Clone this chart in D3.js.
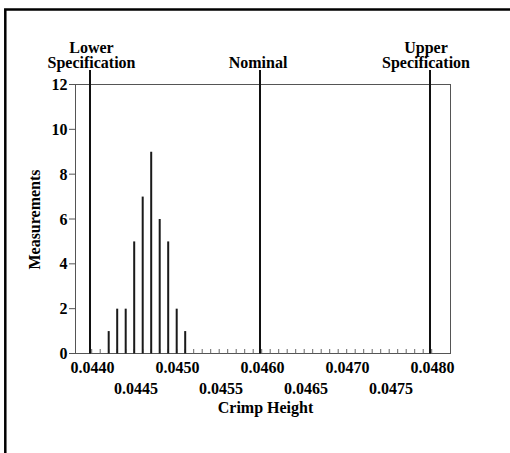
<!DOCTYPE html>
<html><head><meta charset="utf-8">
<script src="https://cdn.jsdelivr.net/npm/d3@7"></script>
<style>
html,body{margin:0;padding:0;background:#fff;}
svg{display:block;}
text{font-family:"Liberation Serif","Times New Roman",serif;font-weight:bold;fill:#000;}
</style></head>
<body>
<svg id="chart" width="510" height="453"></svg>
<script>
// Histogram bins (bin positions) and counts
const binValues = d3.range(41).map(k => +(0.04402 + 0.0001 * k).toFixed(5));
const counts = [0,0,1,2,2,5,7,9,6,5,2,1,0,0,0,0,0,0,0,0,0,0,0,0,0,0,0,0,0,0,0,0,0,0,0,0,0,0,0,0,0];
// Specification lines
const specNames = [["Lower","Specification"],["Nominal"],["Upper","Specification"]];
const specValues = [0.0440, 0.0460, 0.0480];
const specLabelShift = [1.5, -2, -4];
// Axis ticks
const xTickRow1 = [0.0440, 0.0450, 0.0460, 0.0470, 0.0480];
const xTickRow2 = [0.0445, 0.0455, 0.0465, 0.0475];
const yTicks = [0,2,4,6,8,10,12];

const svg = d3.select("#chart");
const L = 75.5, R = 450.5, T = 84.5, B = 353.5;
const x = d3.scaleLinear().domain([0.0440, 0.0480]).range([90, 430]);
const y = d3.scaleLinear().domain([0, 12]).range([B, T]);

// outer frame
svg.append("rect").attr("x",5.3).attr("y",9.5).attr("width",530).attr("height",470)
  .attr("fill","none").attr("stroke","#000").attr("stroke-width",2.5);

// plot border
svg.append("rect").attr("x",L).attr("y",T).attr("width",R-L).attr("height",B-T)
  .attr("fill","none").attr("stroke","#555").attr("stroke-width",1);

// minor ticks at bins
svg.append("g").selectAll("line").data(binValues).join("line")
  .attr("x1",d=>x(d)).attr("x2",d=>x(d)).attr("y1",B).attr("y2",B-4.5)
  .attr("stroke","#666").attr("stroke-width",1);

// bars
svg.append("g").selectAll("rect").data(binValues.map((v,i)=>({v,c:counts[i]})).filter(d=>d.c>0)).join("rect")
  .attr("x",d=>x(d.v)-1).attr("width",2)
  .attr("y",d=>y(d.c)).attr("height",d=>B-y(d.c))
  .attr("fill","#1a1a1a");

// spec lines
svg.append("g").selectAll("line").data(specValues).join("line")
  .attr("x1",d=>x(d)).attr("x2",d=>x(d)).attr("y1",70).attr("y2",B)
  .attr("stroke","#111").attr("stroke-width",2);

// spec labels
specNames.forEach((lines,i)=>{
  const t = svg.append("text").attr("text-anchor","middle").attr("font-size",16);
  const n = lines.length;
  lines.forEach((s,j)=>{
    t.append("tspan").attr("x",x(specValues[i])+specLabelShift[i])
      .attr("y",67.5 - (n-1-j)*14.5).text(s);
  });
});

// y axis
const yg = svg.append("g");
yg.selectAll("line").data(yTicks).join("line")
  .attr("x1",L-6.5).attr("x2",L).attr("y1",d=>y(d)).attr("y2",d=>y(d))
  .attr("stroke","#555").attr("stroke-width",1);
yg.selectAll("text").data(yTicks).join("text")
  .attr("x",67.5).attr("y",d=>y(d)).attr("dy","0.35em").attr("text-anchor","end")
  .attr("font-size",16).text(d=>d);

// x labels
svg.append("g").selectAll("text").data(xTickRow1).join("text")
  .attr("x",d=>x(d)+2.5).attr("y",373).attr("text-anchor","middle").attr("font-size",16)
  .text(d=>d3.format(".4f")(d));
svg.append("g").selectAll("text").data(xTickRow2).join("text")
  .attr("x",d=>x(d)+3.5).attr("y",394).attr("text-anchor","middle").attr("font-size",16)
  .text(d=>d3.format(".4f")(d));

// axis titles
svg.append("text").attr("x",265.5).attr("y",413).attr("text-anchor","middle")
  .attr("font-size",16).text("Crimp Height");
svg.append("text").attr("transform","translate(40,219.5) rotate(-90)")
  .attr("text-anchor","middle").attr("font-size",16).text("Measurements");
</script>
</body></html>
